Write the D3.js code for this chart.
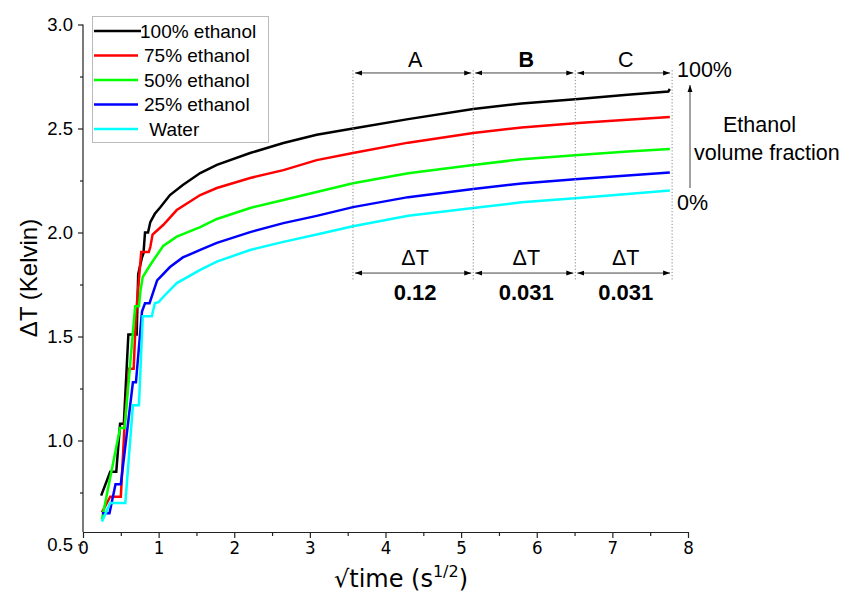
<!DOCTYPE html>
<html><head><meta charset="utf-8">
<script src="https://cdn.jsdelivr.net/npm/d3@7"></script>
<style>
body{margin:0;background:#fff;}
svg{display:block;font-family:"Liberation Sans",Arial,sans-serif;}
</style></head><body>
<svg id="chart" width="843" height="592"></svg>
<script>
// ---------- data ----------
const seriesNames = ["100% ethanol", "75% ethanol", "50% ethanol", "25% ethanol", " Water"];
const seriesColors = ["#000000", "#ff0000", "#00ff00", "#0000ff", "#00ffff"];

const ethanol100 = [[0.24,0.735],[0.36,0.85],[0.44,0.85],[0.49,1.08],[0.54,1.08],[0.60,1.51],[0.71,1.51],[0.73,1.80],[0.78,1.88],[0.80,1.90],[0.82,2.0],[0.86,2.0],[0.89,2.05],[0.95,2.09],[1.02,2.12],[1.15,2.18],[1.32,2.228],[1.55,2.286],[1.77,2.325],[2.21,2.382],[2.65,2.43],[3.09,2.47],[3.57,2.50],[4.3,2.545],[5.16,2.594],[5.8,2.62],[6.55,2.642],[7.2,2.662],[7.74,2.678],[7.76,2.69]];
const ethanol75 = [[0.25,0.655],[0.36,0.73],[0.50,0.73],[0.55,1.075],[0.61,1.345],[0.67,1.345],[0.70,1.6],[0.77,1.906],[0.87,1.906],[0.89,1.93],[0.92,1.99],[0.95,2.0],[1.06,2.036],[1.24,2.108],[1.55,2.18],[1.77,2.214],[2.21,2.262],[2.65,2.30],[3.09,2.348],[3.57,2.382],[4.3,2.432],[5.16,2.478],[5.8,2.505],[6.55,2.526],[7.2,2.542],[7.76,2.555]];
const ethanol50 = [[0.25,0.62],[0.49,1.06],[0.55,1.06],[0.69,1.645],[0.74,1.645],[0.76,1.72],[0.79,1.786],[0.89,1.845],[1.06,1.935],[1.24,1.98],[1.55,2.026],[1.77,2.065],[2.21,2.118],[2.65,2.156],[3.09,2.195],[3.57,2.237],[4.3,2.285],[5.16,2.325],[5.8,2.352],[6.55,2.373],[7.2,2.39],[7.76,2.402]];
const ethanol25 = [[0.25,0.65],[0.35,0.65],[0.43,0.79],[0.50,0.79],[0.66,1.28],[0.70,1.28],[0.78,1.62],[0.82,1.66],[0.88,1.66],[0.98,1.77],[1.15,1.834],[1.32,1.88],[1.55,1.916],[1.77,1.95],[2.21,2.002],[2.65,2.045],[3.09,2.08],[3.57,2.122],[4.3,2.17],[5.16,2.209],[5.8,2.236],[6.55,2.257],[7.2,2.274],[7.76,2.288]];
const water = [[0.25,0.61],[0.36,0.70],[0.56,0.70],[0.66,1.17],[0.74,1.17],[0.79,1.597],[0.91,1.597],[0.95,1.66],[1.0,1.665],[1.06,1.69],[1.24,1.757],[1.55,1.82],[1.77,1.86],[2.21,1.916],[2.65,1.955],[3.09,1.99],[3.57,2.03],[4.3,2.08],[5.16,2.118],[5.8,2.145],[6.55,2.166],[7.2,2.185],[7.76,2.202]];
const allSeries = [ethanol100, ethanol75, ethanol50, ethanol25, water];

const xTicks = [0,1,2,3,4,5,6,7,8];
const xMinorTicks = [0.5,1.5,2.5,3.5,4.5,5.5,6.5,7.5];
const yTicks = [0.5,1.0,1.5,2.0,2.5,3.0];
const yMinorTicks = [0.75,1.25,1.75,2.25,2.75];

const regionBounds = [3.57, 5.16, 6.51, 7.79];
const regionLabels = ["A", "B", "C"];
const regionDeltas = ["0.12", "0.031", "0.031"];

// ---------- layout ----------
const svg = d3.select("#chart");
const x = d3.scaleLinear().domain([0, 8]).range([83, 688]);
const y = d3.scaleLinear().domain([0.5, 3.0]).range([544.5, 24.5]);
const xAxisY = 532;

const defs = svg.append("defs");
defs.append("marker").attr("id","ah").attr("viewBox","0 0 10 10")
  .attr("refX",10).attr("refY",5).attr("markerWidth",7).attr("markerHeight",7)
  .attr("markerUnits","userSpaceOnUse").attr("orient","auto-start-reverse")
  .append("path").attr("d","M0,1.5L10,5L0,8.5Z").attr("fill","#000");

// ---------- axes ----------
const gx = svg.append("g").attr("transform", `translate(0,${xAxisY})`)
  .call(d3.axisBottom(x).tickValues(xTicks).tickSize(6).tickSizeOuter(0).tickPadding(3).tickFormat(d3.format("d")));
svg.append("g").attr("transform", `translate(0,${xAxisY})`)
  .call(d3.axisBottom(x).tickValues(xMinorTicks).tickSize(4).tickSizeOuter(0).tickFormat(""))
  .select(".domain").remove();
gx.selectAll("text").attr("font-size", 18.5).attr("font-family", "'DejaVu Sans Condensed','DejaVu Sans',sans-serif")
  .attr("font-stretch","condensed").attr("fill","#000");

const gy = svg.append("g").attr("transform", `translate(${x(0)},0)`)
  .call(d3.axisLeft(y).tickValues(yTicks).tickSize(5).tickSizeOuter(0).tickPadding(5).tickFormat(d3.format(".1f")));
gy.select(".domain").attr("d", `M0,${y(3.0)}V${xAxisY}`);
svg.append("g").attr("transform", `translate(${x(0)},0)`)
  .call(d3.axisLeft(y).tickValues(yMinorTicks).tickSize(3).tickSizeOuter(0).tickFormat(""))
  .select(".domain").remove();
gy.selectAll("text").attr("font-size", 18.5).attr("font-family", "'Liberation Sans',Arial,sans-serif").attr("fill","#000");
svg.selectAll(".domain, .tick line").attr("stroke", "#222").attr("stroke-width", 1.2);

// axis titles
svg.append("text").attr("transform", "translate(37,278) rotate(-90)")
  .attr("text-anchor","middle").attr("font-size", 24).text("ΔT (Kelvin)");
const xt = svg.append("text").attr("x", 401).attr("y", 587).attr("text-anchor","middle")
  .attr("font-size", 24).attr("font-family", "'DejaVu Sans',sans-serif");
xt.append("tspan").text("√time (s");
xt.append("tspan").attr("font-size", 16).attr("dy", -10).text("1/2");
xt.append("tspan").attr("dy", 10).text(")");

// ---------- series ----------
const line = d3.line().x(d => x(d[0])).y(d => y(d[1]));
svg.append("g").selectAll("path").data(allSeries).join("path")
  .attr("d", line).attr("fill","none")
  .attr("stroke", (d,i) => seriesColors[i]).attr("stroke-width", 2.5)
  .attr("stroke-linejoin","miter");

// ---------- annotations ----------
const topV = 2.767, botV = 1.805;
const ann = svg.append("g");
regionBounds.forEach(b => {
  ann.append("line").attr("x1", x(b)).attr("x2", x(b)).attr("y1", y(2.78)).attr("y2", y(1.77))
    .attr("stroke","#888").attr("stroke-width",1).attr("stroke-dasharray","1.2,2");
});
regionLabels.forEach((lab, i) => {
  const x1 = x(regionBounds[i]) + 2, x2 = x(regionBounds[i+1]) - 2;
  const cx = (x1 + x2) / 2 + 2;
  [topV, botV].forEach(v => {
    ann.append("line").attr("x1", x1).attr("x2", x2).attr("y1", y(v)).attr("y2", y(v))
      .attr("stroke","#444").attr("stroke-width",1)
      .attr("marker-start","url(#ah)").attr("marker-end","url(#ah)");
  });
  ann.append("text").attr("x", cx).attr("y", y(topV) - 6).attr("text-anchor","middle")
    .attr("font-size", 21.5).attr("font-weight", lab === "B" ? "bold" : "normal").text(lab);
  ann.append("text").attr("x", cx).attr("y", y(botV) - 8).attr("text-anchor","middle")
    .attr("font-size", 21.5).text("ΔT");
  ann.append("text").attr("x", cx).attr("y", y(botV) + 27).attr("text-anchor","middle")
    .attr("font-size", 22).attr("font-weight","bold").text(regionDeltas[i]);
});
ann.append("text").attr("x", 677).attr("y", 77).attr("font-size", 21.5).text("100%");
ann.append("text").attr("x", 677).attr("y", 210).attr("font-size", 21.5).text("0%");
ann.append("line").attr("x1", 690).attr("x2", 690).attr("y1", 188).attr("y2", 85)
  .attr("stroke","#444").attr("stroke-width",1).attr("marker-end","url(#ah)");
ann.append("text").attr("x", 723).attr("y", 132).attr("font-size", 21.5).text("Ethanol");
ann.append("text").attr("x", 694).attr("y", 160).attr("font-size", 21.5).text("volume fraction");

// ---------- legend ----------
const lg = svg.append("g");
lg.append("rect").attr("x", 92.5).attr("y", 16.5).attr("width", 176).attr("height", 126)
  .attr("fill","#fff").attr("stroke","#bbb").attr("stroke-width",1);
const rowY = [31, 55.5, 80, 104.5, 129];
seriesNames.forEach((name, i) => {
  lg.append("line").attr("x1", 94).attr("x2", i === 0 ? 141 : 138)
    .attr("y1", rowY[i]).attr("y2", rowY[i]).attr("stroke", seriesColors[i]).attr("stroke-width", 2.5);
  lg.append("text").attr("x", i === 0 ? 140 : 144).attr("y", rowY[i] + 6.5)
    .attr("font-size", 19).attr("xml:space","preserve").style("white-space","pre").text(name);
});
</script>
</body></html>
